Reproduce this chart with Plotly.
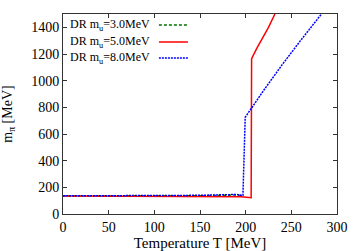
import plotly.graph_objects as go

# Data
T_green = [0, 50, 100, 150, 180, 190, 196]
m_green = [135, 135, 135, 137, 141, 143, 138]

T_red = [0, 50, 100, 150, 180, 195, 206, 206.5, 212, 218, 225, 232]
m_red = [135, 135, 135, 135, 134, 130, 122, 1165, 1240, 1310, 1400, 1500]

T_blue = [0, 50, 100, 150, 180, 190, 197, 199.5, 220, 240, 260, 283]
m_blue = [136, 136, 137, 140, 145, 146, 138, 725, 930, 1120, 1300, 1500]

labels = ["DR m<sub>u</sub>=3.0MeV", "DR m<sub>u</sub>=5.0MeV", "DR m<sub>u</sub>=8.0MeV"]
colors = ["#007000", "#ff0000", "#0000ff"]
dashes = ["3px,2px", "solid", "2px,1px"]

x_ticks = [0, 50, 100, 150, 200, 250, 300]
y_ticks = [0, 200, 400, 600, 800, 1000, 1200, 1400]

font = "Liberation Serif"

fig = go.Figure()
for T, m, c, d, lab in zip([T_green, T_red, T_blue], [m_green, m_red, m_blue], colors, dashes, labels):
    fig.add_trace(go.Scatter(x=T, y=m, mode="lines", line=dict(color=c, dash=d, width=1.5),
                             name=lab, showlegend=False))

# Manual legend (text left, sample line right)
row_y = [0.945, 0.86, 0.78]
for lab, c, d, yy in zip(labels, colors, dashes, row_y):
    fig.add_annotation(xref="paper", yref="paper", x=0.325, y=yy, text=lab, showarrow=False,
                       xanchor="right", yanchor="middle", font=dict(family=font, size=12, color="black"))
    fig.add_shape(type="line", xref="paper", yref="paper", x0=0.35, x1=0.456, y0=yy, y1=yy,
                  line=dict(color=c, dash=d, width=1.5))

axis_common = dict(showline=True, linecolor="#333333", linewidth=1, mirror="ticks",
                   ticks="inside", ticklen=4, tickcolor="#333333", showgrid=False, zeroline=False,
                   automargin=False,
                   tickfont=dict(family=font, size=14, color="black"))

fig.update_xaxes(range=[0, 300], tickvals=x_ticks, title=dict(text="Temperature T [MeV]",
                 font=dict(family=font, size=15, color="black"), standoff=1), **axis_common)
fig.update_yaxes(range=[0, 1500], tickvals=y_ticks, title=dict(text="m<sub>π</sub> [MeV]",
                 font=dict(family=font, size=14, color="black"), standoff=18), **axis_common)

fig.update_layout(width=358, height=251, margin=dict(l=63, r=21, t=14, b=37),
                  plot_bgcolor="white", paper_bgcolor="white")

fig.write_html("out.html", config={"displayModeBar": False},
               post_script="document.body.style.margin='0';")
